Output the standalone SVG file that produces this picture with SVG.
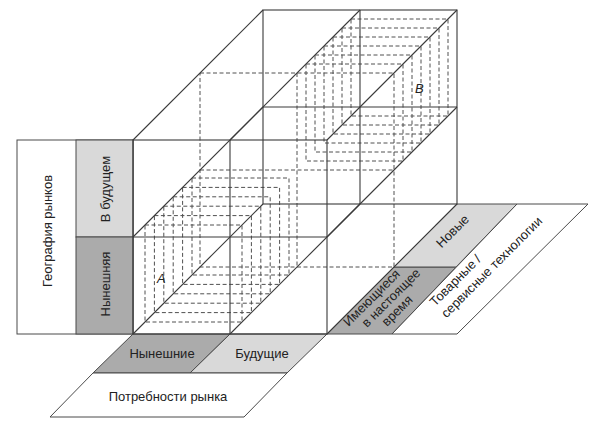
<svg xmlns="http://www.w3.org/2000/svg" width="600" height="429" viewBox="0 0 600 429">
<defs>
<style>
.s{fill:none;stroke:#3a3a3a;stroke-width:1.1}
.d{fill:none;stroke:#505050;stroke-width:1;stroke-dasharray:4 2.5}
.p{stroke:#4a4a4a;stroke-width:1}
.lt{fill:#d9d9d9}
.dk{fill:#ababab}
.w{fill:#fff}
.t{font-family:"Liberation Sans",Arial,sans-serif;font-size:13px;fill:#222}
.i{font-style:italic}
</style>
</defs>
<rect width="600" height="429" fill="#fff"/>

<g id="axis-geography">
<rect x="17" y="140" width="116" height="194" class="w p"/>
<rect x="76" y="140" width="57" height="97" class="lt p"/>
<rect x="76" y="237" width="57" height="97" class="dk p"/>
<text class="t" text-anchor="middle" transform="translate(52,231) rotate(-90)">География рынков</text>
<text class="t" text-anchor="middle" transform="translate(110,189) rotate(-90)">В будущем</text>
<text class="t" text-anchor="middle" transform="translate(110,284) rotate(-90)">Нынешняя</text>
</g>

<g id="axis-needs">
<polygon points="133,334 230,334 190,373 93,373" class="dk p"/>
<polygon points="230,334 327,334 287,373 190,373" class="lt p"/>
<polygon points="93,373 287,373 244,417 50,417" class="w p"/>
<text class="t" x="162" y="357.5" text-anchor="middle">Нынешние</text>
<text class="t" x="262" y="357.5" text-anchor="middle">Будущие</text>
<text class="t" x="168" y="401" text-anchor="middle">Потребности рынка</text>
</g>

<g id="axis-technology">
<polygon points="327,334 392,334 456,267 394,267" class="dk p"/>
<polygon points="394,267 456,267 517,204 457,204" class="lt p"/>
<polygon points="392,334 457,334 588,204 517,204" class="w p"/>
<text class="t" transform="translate(441.5,248.5) rotate(-45)">Новые</text>
<text class="t" transform="translate(348.5,327) rotate(-45)">Имеющиеся</text>
<text class="t" transform="translate(367,328) rotate(-45)">в настоящее</text>
<text class="t" transform="translate(387,327) rotate(-45)">время</text>
<text class="t" transform="translate(435,307) rotate(-45)">Товарные /</text>
<text class="t" transform="translate(446.5,318.5) rotate(-45)">сервисные технологии</text>
</g>

<g id="cell-A">
<rect x="145" y="225" width="97" height="97" class="d"/>
<rect x="154.4" y="215.6" width="97" height="97" class="d"/>
<rect x="163.8" y="206.2" width="97" height="97" class="d"/>
<rect x="173.2" y="196.8" width="97" height="97" class="d"/>
<rect x="182.6" y="187.4" width="97" height="97" class="d"/>
<rect x="192" y="178" width="97" height="97" class="d"/>
<text class="t i" x="157" y="283">A</text>
</g>

<g id="cell-B">
<rect x="306" y="64" width="97" height="97" class="d"/>
<rect x="315" y="55" width="97" height="97" class="d"/>
<rect x="324" y="46" width="97" height="97" class="d"/>
<rect x="333" y="37" width="97" height="97" class="d"/>
<rect x="342" y="28" width="97" height="97" class="d"/>
<rect x="351" y="19" width="97" height="97" class="d"/>
<text class="t i" x="415" y="93">B</text>
</g>

<g id="mid-plane">
<rect x="200" y="73" width="194" height="194" class="d"/>
<line x1="297" y1="73" x2="297" y2="267" class="d"/>
<line x1="200" y1="170" x2="394" y2="170" class="d"/>
</g>

<g id="connectors">
<rect x="263" y="10" width="194" height="194" class="s"/>
<line x1="360" y1="10" x2="360" y2="204" class="s"/>
<line x1="263" y1="107" x2="457" y2="107" class="s"/>
<line x1="133" y1="140" x2="263" y2="10" class="s"/>
<line x1="230" y1="140" x2="360" y2="10" class="s"/>
<line x1="327" y1="140" x2="457" y2="10" class="s"/>
<line x1="133" y1="237" x2="263" y2="107" class="s"/>
<line x1="327" y1="237" x2="457" y2="107" class="s"/>
<line x1="133" y1="334" x2="263" y2="204" class="s"/>
<line x1="230" y1="334" x2="360" y2="204" class="s"/>
<line x1="327" y1="334" x2="457" y2="204" class="s"/>
<rect x="133" y="140" width="194" height="194" class="s"/>
<line x1="230" y1="140" x2="230" y2="334" class="s"/>
<line x1="133" y1="237" x2="327" y2="237" class="s"/>
</g>
</svg>
